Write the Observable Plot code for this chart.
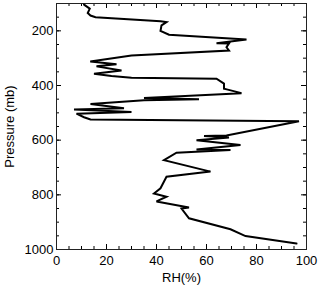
<!DOCTYPE html>
<html><head><meta charset="utf-8">
<script src="https://cdn.jsdelivr.net/npm/d3@7"></script>
<script src="https://cdn.jsdelivr.net/npm/@observablehq/plot@0.6"></script>
<style>html,body{margin:0;padding:0;background:#fff}svg{display:block}</style>
</head><body><div id="chart"></div>
<script>
// Profile: pressure (mb) and relative humidity (%) in sounding order
const pressure = [104,119,135,144,150,165,168,180,200,214,232,245,246,260,272,290,312,322,330,345,357,365,372,375,393,412,415,428,446,450,454,468,483,488,497,503,516,524,531,583,585,590,600,618,634,636,646,673,715,734,776,795,807,824,846,850,886,926,951,978];
const rh       = [11,13.3,12.5,13.6,15.6,41.6,44,42,41.6,45,76,64,69,68,69,30,13.5,24,16,26,15,22,30,64,67,67,68.5,74,35,57,35,13.6,27,7,30,8,11,13.6,97,68,59,69,56,73.6,56,69.6,48,43,61.6,44,41.6,39,44,40,53,50,53,69.6,75.6,96];
const xMajorTicks = [0,20,40,60,80,100];
const xMinorTicks = [0,5,10,15,20,25,30,35,40,45,50,55,60,65,70,75,80,85,90,95,100];
const yMajorTicks = [200,400,600,800,1000];
const yMinorTicks = [100,150,200,250,300,350,400,450,500,550,600,650,700,750,800,850,900,950,1000];

const rows = pressure.map((p, i) => ({p, rh: rh[i]}));
const ink = "#000";

const W = 320, H = 286, mL = 56, mR = 14, mT = 3, mB = 37;
const xDom = [0, 100], yDom = [100, 1000];
// convert a pixel length into data units along each axis (for inward tick lengths)
const dxPx = px => px * (xDom[1] - xDom[0]) / (W - mL - mR);
const dyPx = px => px * (yDom[1] - yDom[0]) / (H - mT - mB);

function xTicks(values, len) {
  return [
    Plot.ruleX(values, {x: d => d, y1: yDom[1], y2: yDom[1] - dyPx(len), stroke: ink}),
    Plot.ruleX(values, {x: d => d, y1: yDom[0], y2: yDom[0] + dyPx(len), stroke: ink})
  ];
}
function yTicks(values, len) {
  return [
    Plot.ruleY(values, {y: d => d, x1: xDom[0], x2: xDom[0] + dxPx(len), stroke: ink}),
    Plot.ruleY(values, {y: d => d, x1: xDom[1], x2: xDom[1] - dxPx(len), stroke: ink})
  ];
}

const chart = Plot.plot({
  width: W, height: H,
  marginLeft: mL, marginRight: mR, marginTop: mT, marginBottom: mB,
  style: {fontFamily: "'Liberation Sans', Arial, Helvetica, sans-serif", fontSize: "13px", color: ink, background: "#fff"},
  x: {domain: xDom},
  y: {domain: yDom, reverse: true},
  marks: [
    Plot.axisX(xMajorTicks, {anchor: "bottom", tickSize: 0, tickPadding: 6, label: "RH(%)", labelAnchor: "center", labelOffset: 32, labelArrow: "none"}),
    Plot.axisY(yMajorTicks, {anchor: "left", tickSize: 0, tickPadding: 3, tickFormat: "d", label: "Pressure (mb)", labelAnchor: "center", labelOffset: 52, labelArrow: "none"}),
    ...xTicks(xMajorTicks, 5),
    ...xTicks(xMinorTicks, 3),
    ...yTicks(yMajorTicks, 5),
    ...yTicks(yMinorTicks, 3),
    Plot.frame({stroke: "#222", strokeWidth: 1}),
    Plot.line(rows, {x: "rh", y: "p", stroke: ink, strokeWidth: 2, strokeLinejoin: "miter", strokeMiterlimit: 3})
  ]
});
document.getElementById("chart").appendChild(chart);
</script>
</body></html>
